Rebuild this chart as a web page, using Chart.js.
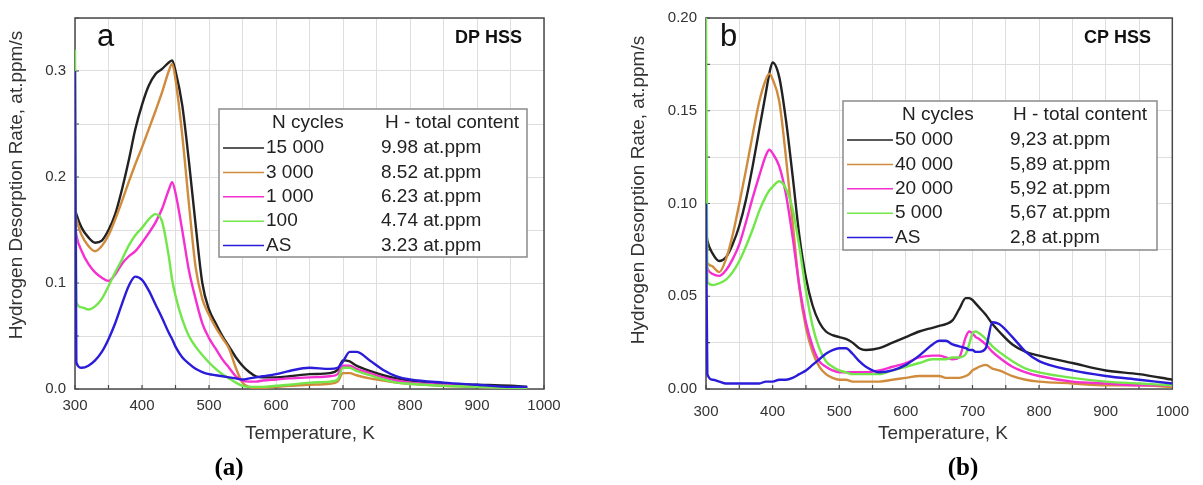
<!DOCTYPE html>
<html>
<head>
<meta charset="utf-8">
<script src="https://cdn.jsdelivr.net/npm/chart.js@4.4.1/dist/chart.umd.min.js"></script>
<style>
  html, body { margin:0; padding:0; background:#fff; }
  body { width:1203px; height:485px; position:relative; overflow:hidden; font-family:"Liberation Sans", Arial, sans-serif; }
  .panel { position:absolute; top:0; height:485px; }
  #panelA { left:0; width:600px; }
  #panelB { left:600px; width:603px; }
  .caption { position:absolute; top:453px; width:100px; text-align:center; font:bold 25px "Liberation Serif", "Times New Roman", serif; color:#000; }
</style>
</head>
<body>
<div class="panel" id="panelA"><canvas id="chartA" width="600" height="485"></canvas></div>
<div class="panel" id="panelB"><canvas id="chartB" width="603" height="485"></canvas></div>
<div class="caption" style="left:179px">(a)</div>
<div class="caption" style="left:913px">(b)</div>
<script>
// ---- panel a : DP HSS ----
const tempA = [300, 302, 310, 320, 330, 340, 350, 360, 370, 380, 390, 400, 410, 420, 430, 440, 445, 450, 460, 470, 480, 490, 500, 510, 520, 530, 540, 550, 560, 570, 580, 600, 620, 650, 680, 692, 700, 710, 720, 740, 760, 780, 800, 850, 900, 950, 975];
const cyclesA = ['15 000', '3 000', '1 000', '100', 'AS'];
const contentA = ['9.98 at.ppm', '8.52 at.ppm', '6.23 at.ppm', '4.74 at.ppm', '3.23 at.ppm'];
const a15000 = [.170, .165, .152, .143, .138, .140, .150, .165, .188, .215, .245, .268, .286, .297, .302, .308, .310, .300, .268, .215, .155, .100, .075, .062, .050, .040, .030, .022, .016, .012, .011, .011, .012, .014, .015, .018, .027, .026, .022, .017, .013, .010, .008, .005, .004, .003, .002];
const a3000 = [.165, .160, .145, .135, .130, .135, .145, .160, .177, .195, .212, .228, .245, .262, .280, .300, .307, .292, .240, .175, .115, .085, .070, .058, .048, .038, .020, .006, .002, .001, .001, .002, .003, .004, .005, .007, .015, .015, .013, .010, .008, .006, .005, .003, .002, .001, .001];
const a1000 = [.155, .145, .130, .118, .110, .105, .102, .108, .118, .125, .130, .138, .147, .157, .170, .188, .195, .185, .150, .112, .085, .062, .048, .038, .028, .020, .012, .008, .007, .007, .008, .009, .010, .011, .012, .014, .022, .022, .019, .015, .011, .008, .006, .004, .002, .001, .001];
const a100 = [.320, .082, .077, .075, .078, .085, .097, .110, .122, .135, .145, .152, .160, .165, .158, .125, .103, .088, .066, .050, .040, .032, .025, .019, .014, .010, .006, .003, .002, .002, .002, .003, .004, .006, .007, .009, .020, .020, .017, .013, .009, .006, .005, .003, .002, .001, .001];
const aAS = [.300, .025, .020, .022, .027, .035, .047, .062, .080, .097, .106, .103, .093, .080, .067, .053, .047, .040, .030, .024, .019, .016, .014, .013, .012, .011, .010, .009, .010, .011, .012, .014, .017, .020, .019, .020, .026, .035, .035, .027, .018, .012, .009, .006, .004, .002, .002];

// ---- panel b : CP HSS ----
const tempB = [300, 302, 310, 320, 330, 340, 350, 360, 370, 380, 390, 395, 400, 410, 420, 430, 440, 450, 460, 470, 480, 490, 500, 510, 520, 530, 540, 560, 580, 600, 620, 640, 650, 660, 670, 680, 690, 695, 700, 705, 710, 720, 730, 740, 760, 780, 800, 850, 900, 950, 1000];
const cyclesB = ['50 000', '40 000', '20 000', '5 000', 'AS'];
const contentB = ['9,23 at.ppm', '5,89 at.ppm', '5,92 at.ppm', '5,67 at.ppm', '2,8 at.ppm'];
const b50000 = [.085, .080, .073, .069, .071, .078, .088, .102, .120, .140, .160, .170, .176, .168, .145, .115, .083, .060, .045, .036, .031, .029, .028, .027, .025, .022, .021, .022, .025, .028, .031, .033, .034, .035, .037, .043, .049, .049, .048, .046, .044, .040, .035, .031, .024, .020, .018, .014, .010, .008, .005];
const b40000 = [.070, .068, .066, .063, .070, .083, .100, .118, .137, .155, .167, .170, .167, .155, .125, .090, .055, .033, .020, .012, .008, .006, .005, .005, .004, .004, .004, .004, .005, .006, .007, .007, .007, .006, .006, .006, .007, .008, .010, .011, .012, .013, .011, .010, .007, .005, .004, .003, .002, .002, .001];
const b20000 = [.068, .065, .062, .061, .064, .070, .078, .090, .103, .115, .126, .129, .127, .120, .105, .082, .056, .036, .023, .015, .012, .010, .009, .009, .009, .009, .009, .010, .012, .014, .017, .018, .018, .017, .016, .017, .028, .031, .030, .028, .027, .024, .020, .017, .012, .009, .007, .004, .003, .002, .002];
const b5000 = [.200, .058, .056, .057, .059, .063, .069, .077, .086, .096, .104, .107, .109, .112, .108, .097, .077, .053, .034, .022, .015, .012, .010, .009, .008, .008, .008, .008, .010, .012, .014, .016, .016, .016, .017, .017, .019, .024, .030, .031, .030, .027, .023, .020, .015, .011, .009, .006, .004, .003, .002];
const bAS = [.100, .008, .005, .004, .003, .003, .003, .003, .003, .003, .004, .004, .004, .005, .005, .006, .008, .010, .013, .016, .019, .021, .022, .022, .019, .015, .012, .009, .010, .013, .018, .024, .026, .026, .024, .023, .022, .021, .021, .020, .020, .022, .036, .035, .028, .020, .015, .010, .007, .005, .003];

const colors = ['#222222', '#d08b3c', '#f52fd0', '#72e64a', '#2a1cd8'];
const FONT = '"Liberation Sans", Arial, sans-serif';

function buildSets(temps, series, labels) {
  return series.map((vals, i) => ({
    label: labels[i],
    data: temps.map((t, j) => ({ x: t, y: vals[j] })),
    borderColor: colors[i],
    borderWidth: 2.4,
    pointRadius: 0,
    fill: false,
    cubicInterpolationMode: 'monotone',
    order: series.length - i
  }));
}

function panelPlugin(cfg) {
  return {
    id: 'panelText',
    beforeDatasetsDraw(chart) {
      const ctx = chart.ctx, a = chart.chartArea;
      const xs = chart.scales.x, ys = chart.scales.y;
      ctx.save();
      ctx.strokeStyle = '#4a4a4a';
      ctx.lineWidth = 1.5;
      ctx.strokeRect(a.left, a.top, a.right - a.left, a.bottom - a.top);
      ctx.lineWidth = 1.2;
      ctx.beginPath();
      xs.ticks.forEach(t => {
        const px = xs.getPixelForValue(t.value);
        ctx.moveTo(px, a.bottom); ctx.lineTo(px, a.bottom - 4);
      });
      ys.ticks.forEach(t => {
        const py = ys.getPixelForValue(t.value);
        ctx.moveTo(a.left, py); ctx.lineTo(a.left + 4, py);
      });
      ctx.stroke();
      ctx.restore();
    },
    afterDraw(chart) {
      const ctx = chart.ctx;
      ctx.save();
      ctx.fillStyle = '#333';
      // axis titles
      ctx.font = '19px ' + FONT;
      ctx.textAlign = 'center';
      ctx.textBaseline = 'middle';
      ctx.fillText('Temperature, K', cfg.xTitle[0], cfg.xTitle[1]);
      ctx.save();
      ctx.translate(cfg.yTitle[0], cfg.yTitle[1]);
      ctx.rotate(-Math.PI / 2);
      ctx.fillText('Hydrogen Desorption Rate, at.ppm/s', 0, 0);
      ctx.restore();
      // panel letter and sample
      ctx.fillStyle = '#111';
      ctx.textAlign = 'left';
      ctx.textBaseline = 'alphabetic';
      ctx.font = '31px ' + FONT;
      ctx.fillText(cfg.letter, cfg.letterPos[0], cfg.letterPos[1]);
      ctx.textAlign = 'right';
      ctx.font = 'bold 18px ' + FONT;
      ctx.fillText(cfg.sample, cfg.samplePos[0], cfg.samplePos[1]);
      // legend box
      const L = cfg.legend;
      ctx.fillStyle = '#fff';
      ctx.fillRect(L.left, L.top, L.right - L.left, L.bottom - L.top);
      ctx.strokeStyle = '#8a8a8a';
      ctx.lineWidth = 1.5;
      ctx.strokeRect(L.left, L.top, L.right - L.left, L.bottom - L.top);
      ctx.fillStyle = '#222';
      ctx.font = '19px ' + FONT;
      ctx.textAlign = 'left';
      ctx.textBaseline = 'middle';
      ctx.fillText('N cycles', L.nHead, L.top + 14);
      ctx.fillText('H - total content', L.hHead, L.top + 14);
      cfg.cycles.forEach((c, i) => {
        const y = L.top + 39 + i * 24.4;
        ctx.strokeStyle = colors[i];
        ctx.lineWidth = 1.5;
        ctx.beginPath();
        ctx.moveTo(L.line[0], y); ctx.lineTo(L.line[1], y);
        ctx.stroke();
        ctx.fillText(c, L.nCol, y);
        ctx.fillText(cfg.content[i], L.hCol, y);
      });
      ctx.restore();
    }
  };
}

function makeChart(id, temps, series, cfg) {
  const yDigits = cfg.yDigits;
  return new Chart(document.getElementById(id), {
    type: 'line',
    data: { datasets: buildSets(temps, series, cfg.cycles) },
    options: {
      responsive: false,
      animation: false,
      layout: { padding: { left: 0, top: cfg.padTop, right: cfg.padRight, bottom: 0 } },
      plugins: { legend: { display: false }, tooltip: { enabled: false } },
      scales: {
        x: {
          type: 'linear', min: 300, max: 1000,
          afterFit(s) { s.height = cfg.xHeight; },
          grid: { color: '#dedede', lineWidth: 1, drawTicks: false },
          border: { display: false },
          ticks: {
            stepSize: 50, autoSkip: false, maxRotation: 0, padding: cfg.xPad,
            color: '#333', font: { size: 15, family: FONT },
            callback: v => (v % 100 === 0 ? String(v) : '')
          }
        },
        y: {
          min: 0, max: cfg.yMax,
          afterFit(s) { s.width = cfg.yWidth; },
          grid: { color: '#dedede', lineWidth: 1, drawTicks: false },
          border: { display: false },
          ticks: {
            stepSize: cfg.yStep, autoSkip: false, padding: 9,
            color: '#333', font: { size: 15, family: FONT },
            callback: v => {
              const k = v / cfg.yLabelStep;
              return Math.abs(k - Math.round(k)) < 1e-6 ? v.toFixed(yDigits) : '';
            }
          }
        }
      }
    },
    plugins: [panelPlugin(cfg)]
  });
}

makeChart('chartA', tempA, [a15000, a3000, a1000, a100, aAS], {
  cycles: cyclesA, content: contentA,
  padTop: 11, padRight: 56, xHeight: 96, yWidth: 75, xPad: 8,
  yMax: 0.35, yStep: 0.05, yLabelStep: 0.1, yDigits: 1,
  xTitle: [310, 434], yTitle: [17, 185],
  letter: 'a', letterPos: [97, 46],
  sample: 'DP HSS', samplePos: [522, 43],
  legend: { left: 219, right: 527, top: 109, bottom: 257, line: [223, 264], nCol: 266, nHead: 272, hCol: 381, hHead: 385 }
});

makeChart('chartB', tempB, [b50000, b40000, b20000, b5000, bAS], {
  cycles: cyclesB, content: contentB,
  padTop: 14, padRight: 25, xHeight: 96, yWidth: 106, xPad: 14,
  yMax: 0.20, yStep: 0.025, yLabelStep: 0.05, yDigits: 2,
  xTitle: [343, 434], yTitle: [39, 190],
  letter: 'b', letterPos: [120, 46],
  sample: 'CP HSS', samplePos: [551, 43],
  legend: { left: 243, right: 557, top: 101, bottom: 250, line: [247, 293], nCol: 295, nHead: 302, hCol: 410, hHead: 413 }
});
</script>
</body>
</html>
